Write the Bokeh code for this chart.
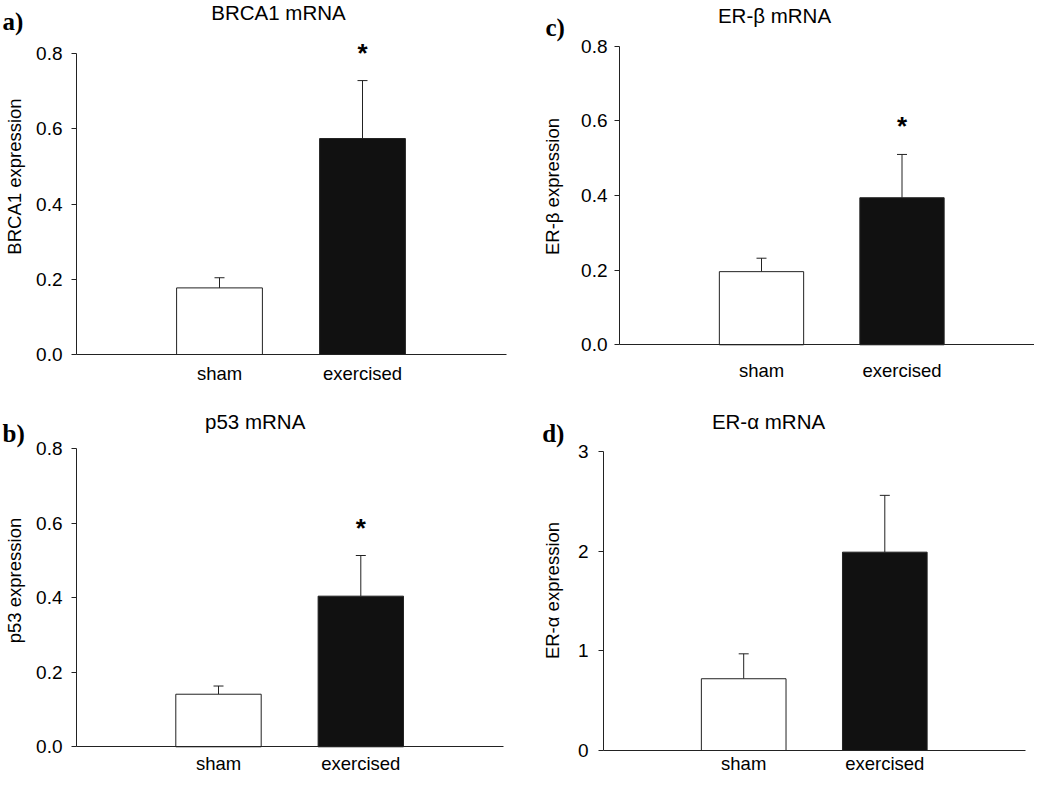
from math import pi
from bokeh.plotting import figure
from bokeh.models import (Range1d, FixedTicker, NumeralTickFormatter, Label,
                          Whisker, TeeHead, ColumnDataSource)
from bokeh.layouts import column, row
from bokeh.core.properties import value
from bokeh.embed import file_html
from bokeh.resources import INLINE

# ---------------- data ----------------
cats = ["sham", "exercised"]
bar_fills = ["white", "#111111"]

brca1_mean = [0.177, 0.574]
brca1_sem = [0.027, 0.154]
brca1_sig = ["", "*"]
brca1_ticks = [0.0, 0.2, 0.4, 0.6, 0.8]

p53_mean = [0.141, 0.404]
p53_sem = [0.022, 0.109]
p53_sig = ["", "*"]
p53_ticks = [0.0, 0.2, 0.4, 0.6, 0.8]

erb_mean = [0.196, 0.394]
erb_sem = [0.036, 0.116]
erb_sig = ["", "*"]
erb_ticks = [0.0, 0.2, 0.4, 0.6, 0.8]

era_mean = [0.72, 1.99]
era_sem = [0.25, 0.57]
era_sig = ["", ""]
era_ticks = [0, 1, 2, 3]

SANS = "Liberation Sans"
SERIF = "Liberation Serif"
INK = "#222222"


def panel(means, sems, sig, ticks, fmt, title, ylabel, letter, g):
    W, H = g["W"], g["H"]
    s1, k = g["s1"], g["s2"] - g["s1"]
    B = g["B"]
    tmax = ticks[-1]
    ppu = (B - g["tick_px"]) / tmax

    def dx(lx):
        return 1 + (lx - s1) / k

    def dy(ly):
        return (B - ly) / ppu

    p = figure(width=W, height=H, x_range=Range1d(dx(0), dx(W)),
               y_range=Range1d(dy(H), dy(0)), output_backend="svg",
               toolbar_location=None, tools="",
               min_border_left=0, min_border_right=0,
               min_border_top=0, min_border_bottom=0)
    p.outline_line_color = None
    p.xgrid.visible = False
    p.ygrid.visible = False
    p.background_fill_color = "white"
    p.border_fill_color = "white"

    xs = [i + 1 for i in range(len(cats))]
    src = ColumnDataSource(dict(
        x=xs, top=means, upper=[m + s for m, s in zip(means, sems)],
        fill=bar_fills, sig=sig))

    p.vbar(x="x", top="top", bottom=0, width=0.6, fill_color="fill",
           line_color=INK, line_width=1, source=src)
    wh = Whisker(source=src, base="x", upper="upper", lower="top",
                 dimension="height", line_color=INK, line_width=1,
                 upper_head=TeeHead(size=10, line_color=INK, line_width=1),
                 lower_head=None)
    p.add_layout(wh)
    p.text(x="x", y="upper", text="sig", source=src, text_align="center",
           text_baseline="alphabetic", text_font=value(SANS),
           text_font_style="bold", text_font_size="26px", y_offset=-28,
           text_color="black")

    x_axis_pos = dx(g["L"])
    x_end = dx(min(g["xend"], W))

    # x axis (crosses at y = 0)
    xa = p.xaxis[0]
    xa.fixed_location = 0
    xa.bounds = (x_axis_pos, x_end)
    xa.ticker = FixedTicker(ticks=xs)
    ov = {}
    for x, c in zip(xs, cats):
        ov[x] = c
        ov[str(x)] = c
    xa.major_label_overrides = ov
    xa.major_tick_out = 0
    xa.major_tick_in = 0
    xa.minor_tick_out = 0
    xa.minor_tick_in = 0
    xa.major_label_standoff = g["xsd"]
    xa.major_label_text_font = SANS
    xa.major_label_text_font_size = "18.5px"
    xa.major_label_text_color = "black"
    xa.axis_line_color = INK
    xa.axis_line_width = 1

    # y axis
    ya = p.yaxis[0]
    ya.fixed_location = x_axis_pos
    ya.ticker = FixedTicker(ticks=ticks)
    ya.formatter = NumeralTickFormatter(format=fmt)
    ya.bounds = (0, tmax)
    ya.major_tick_out = 5
    ya.major_tick_in = 0
    ya.minor_tick_out = 0
    ya.minor_tick_in = 0
    ya.major_label_standoff = g["ysd"]
    ya.major_label_text_font = SANS
    ya.major_label_text_font_size = "19px"
    ya.major_label_text_color = "black"
    ya.axis_line_color = INK
    ya.major_tick_line_color = INK

    tx, ty = g["title"]
    p.add_layout(Label(x=dx(tx), y=dy(ty), text=title, text_align="center",
                       text_baseline="alphabetic", text_font=SANS,
                       text_font_size="20.5px", text_color="black"))
    lx, ly = g["letter"]
    p.add_layout(Label(x=dx(lx), y=dy(ly), text=letter, text_align="left",
                       text_baseline="alphabetic", text_font=SERIF,
                       text_font_style="bold", text_font_size="25px",
                       text_color="black"))
    vx, vy = g["ylab"]
    p.add_layout(Label(x=dx(vx), y=dy(vy), text=ylabel, angle=pi / 2,
                       text_align="center", text_baseline="middle",
                       text_font=SANS, text_font_size="18.5px",
                       text_color="black"))
    return p


# pixel geometry of each panel (local to its own figure)
ga = dict(W=520, H=384, L=76, xend=506, B=354, tick_px=53, s1=219, s2=362,
          ysd=9, xsd=8, title=(278, 12), letter=(2, 21), ylab=(14, 176))
gc = dict(W=514, H=384, L=99, xend=530, B=344.3, tick_px=45.7, s1=241,
          s2=381.5, ysd=7, xsd=15, title=(254, 15), letter=(25, 27),
          ylab=(32, 186))
gb = dict(W=520, H=390, L=76, xend=503, B=362.3, tick_px=64, s1=218,
          s2=360.3, ysd=9, xsd=6, title=(254.7, 37), letter=(2, 48.5),
          ylab=(14, 196))
gd = dict(W=514, H=390, L=83, xend=505, B=366, tick_px=67, s1=223.2,
          s2=364.3, ysd=10, xsd=2, title=(248, 37), letter=(21.7, 48.5),
          ylab=(31.7, 206))

pa = panel(brca1_mean, brca1_sem, brca1_sig, brca1_ticks, "0.0",
           "BRCA1 mRNA", "BRCA1 expression", "a)", ga)
pc = panel(erb_mean, erb_sem, erb_sig, erb_ticks, "0.0",
           "ER-\u03b2 mRNA", "ER-\u03b2 expression", "c)", gc)
pb = panel(p53_mean, p53_sem, p53_sig, p53_ticks, "0.0",
           "p53 mRNA", "p53 expression", "b)", gb)
pd_ = panel(era_mean, era_sem, era_sig, era_ticks, "0",
            "ER-\u03b1 mRNA", "ER-\u03b1 expression", "d)", gd)

layout = column(row(pa, pc), row(pb, pd_))
open("out.html", "w").write(file_html(layout, INLINE))
